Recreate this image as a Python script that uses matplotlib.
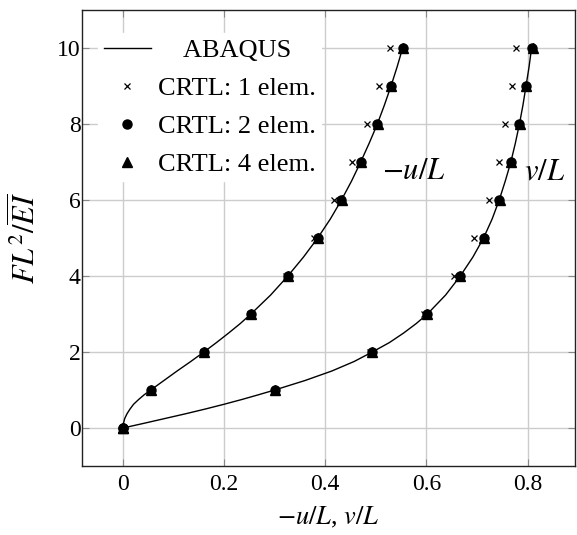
import matplotlib
matplotlib.use("Agg")
import matplotlib.pyplot as plt

plt.rcParams['font.family'] = 'serif'
plt.rcParams['font.serif'] = ['Liberation Serif']
plt.rcParams['mathtext.fontset'] = 'stix'

# ABAQUS reference curve (load parameter vs displacement)
abq_load = [0, 0.125, 0.25, 0.375, 0.5, 0.625, 0.75, 0.875, 1, 1.25, 1.5, 1.75, 2, 2.25, 2.5, 2.75,
            3, 3.5, 4, 4.5, 5, 5.5, 6, 6.5, 7, 7.5, 8, 8.5, 9, 9.5, 10]
abq_u = [0, 0.001, 0.0035, 0.008, 0.014, 0.021, 0.031, 0.042, 0.055, 0.081, 0.107, 0.134, 0.160,
         0.185, 0.209, 0.232, 0.253, 0.292, 0.326, 0.357, 0.385,
         0.410, 0.432, 0.452, 0.470, 0.487, 0.503, 0.517, 0.530, 0.542, 0.553]
abq_v = [0, 0.042, 0.083, 0.124, 0.163, 0.200, 0.235, 0.268, 0.300, 0.360, 0.413, 0.457, 0.493,
         0.527, 0.555, 0.580, 0.602, 0.638, 0.667, 0.692, 0.713,
         0.730, 0.744, 0.756, 0.767, 0.776, 0.784, 0.791, 0.797, 0.803, 0.808]

loads = [0, 1, 2, 3, 4, 5, 6, 7, 8, 9, 10]
# CRTL 1 element
u1 = [0, 0.055, 0.158, 0.251, 0.322, 0.378, 0.418, 0.453, 0.483, 0.507, 0.529]
v1 = [0, 0.300, 0.489, 0.596, 0.655, 0.695, 0.723, 0.743, 0.756, 0.770, 0.778]
# CRTL 2 elements
u2 = [0, 0.055, 0.160, 0.253, 0.326, 0.385, 0.432, 0.470, 0.503, 0.530, 0.553]
v2 = [0, 0.300, 0.493, 0.602, 0.667, 0.713, 0.744, 0.767, 0.784, 0.797, 0.808]
# CRTL 4 elements
u4 = [0, 0.055, 0.160, 0.254, 0.327, 0.386, 0.433, 0.471, 0.504, 0.531, 0.554]
v4 = [0, 0.300, 0.493, 0.602, 0.667, 0.714, 0.745, 0.768, 0.785, 0.798, 0.810]

fig = plt.figure(figsize=(5.77, 5.35), dpi=100)
ax = fig.add_axes([0.1421, 0.129, 0.8545, 0.852])

ax.plot(abq_u, abq_load, color='black', lw=1.0, label='ABAQUS', zorder=3)
ax.plot(abq_v, abq_load, color='black', lw=1.0, zorder=3)

ax.plot(u1, loads, 'x', color='black', ms=4.5, mew=0.9, label='CRTL: 1 elem.', zorder=4)
ax.plot(v1, loads, 'x', color='black', ms=4.5, mew=0.9, zorder=4)
ax.plot(u2, loads, 'o', color='black', ms=6.5, label='CRTL: 2 elem.', zorder=5)
ax.plot(v2, loads, 'o', color='black', ms=6.5, zorder=5)
ax.plot(u4, loads, '^', color='black', ms=6.5, label='CRTL: 4 elem.', zorder=5)
ax.plot(v4, loads, '^', color='black', ms=6.5, zorder=5)

ax.text(0.576, 6.75, r'$-u/L$', fontsize=22, ha='center', va='center')
ax.text(0.833, 6.75, r'$v/L$', fontsize=22, ha='center', va='center')

ax.set_xlim(-0.081, 0.894)
ax.set_ylim(-1, 11)
ax.set_xticks([0, 0.2, 0.4, 0.6, 0.8])
ax.set_xticklabels(['0', '0.2', '0.4', '0.6', '0.8'])
ax.set_yticks([0, 2, 4, 6, 8, 10])
ax.set_yticklabels(['0', '2', '4', '6', '8', '10'])
ax.grid(True, color='#cccccc', lw=1.0)
ax.set_axisbelow(True)
ax.tick_params(direction='in', labelsize=17, length=5, color='#888888',
               labelcolor='black', top=True, right=True)
ax.tick_params(axis='x', pad=6)
ax.tick_params(axis='y', pad=1)
for lbl in ax.get_xticklabels() + ax.get_yticklabels():
    lbl.set_fontfamily('Liberation Serif')

ax.set_xlabel(r'$-u/L$, $v/L$', fontsize=19, labelpad=7)
ax.set_ylabel(r'$FL^2/\overline{EI}$', fontsize=22)
ax.yaxis.set_label_coords(-0.079, 0.5)

for s in ax.spines.values():
    s.set_color('#222222')
    s.set_linewidth(1.0)

leg = ax.legend(loc='upper left', fontsize=19, frameon=True, fancybox=False,
                handlelength=1.8, borderpad=0.2, labelspacing=0.55, handletextpad=0.25,
                bbox_to_anchor=(0.0065, 0.978), prop={'family': 'Liberation Serif', 'size': 19})
leg.get_frame().set_edgecolor('white')
leg.get_frame().set_facecolor('white')
leg.get_frame().set_alpha(1)
leg.get_texts()[0].set_text('    ABAQUS')

fig.savefig('out.png', dpi=100)
